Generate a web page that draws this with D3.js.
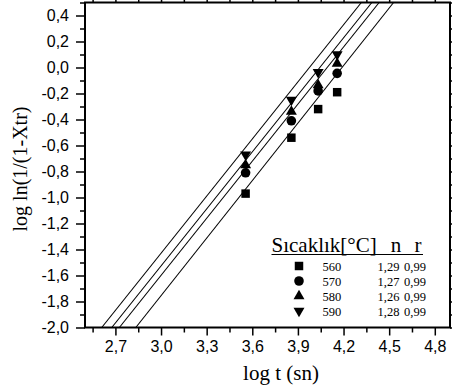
<!DOCTYPE html>
<html><head><meta charset="utf-8">
<script src="https://cdn.jsdelivr.net/npm/d3@7"></script>
<style>body{margin:0;background:#fff}svg{display:block}</style>
</head><body><svg id="c" width="452" height="392"></svg>
<script>
// ---- data ----
const logT = [3.556, 3.857, 4.033, 4.158];
const temps = ["560", "570", "580", "590"];
const y560 = [-0.97, -0.54, -0.32, -0.19];
const y570 = [-0.81, -0.41, -0.18, -0.045];
const y580 = [-0.75, -0.34, -0.135, 0.03];
const y590 = [-0.67, -0.25, -0.035, 0.10];
const nVals = ["1,29", "1,27", "1,26", "1,28"];
const rVals = ["0,99", "0,99", "0,99", "0,99"];
// fitted lines: x where the line meets y=-2.0 and y=0.5
const lineX0 = [2.834, 2.726, 2.676, 2.610];
const lineX1 = [4.529, 4.434, 4.386, 4.317];
const lineY0 = -2.0, lineY1 = 0.5;
const xMajor = [2.7, 3.0, 3.3, 3.6, 3.9, 4.2, 4.5, 4.8];
const xMinor = [2.55, 2.85, 3.15, 3.45, 3.75, 4.05, 4.35, 4.65];
const yMajor = [-2.0, -1.8, -1.6, -1.4, -1.2, -1.0, -0.8, -0.6, -0.4, -0.2, 0.0, 0.2, 0.4];
const yMinor = [-1.9, -1.7, -1.5, -1.3, -1.1, -0.9, -0.7, -0.5, -0.3, -0.1, 0.1, 0.3, 0.5];
const series = [y560, y570, y580, y590];

// ---- layout ----
const L = 85, R = 450, T = 2.5, B = 327.5;
const svg = d3.select("#c");
const x = d3.scaleLinear().domain([2.5, 4.9]).range([L, R]);
const y = d3.scaleLinear().domain([-2.0, 0.5]).range([B, T]);
const loc = d3.formatLocale({decimal: ",", thousands: ".", grouping: [3], currency: ["", ""], minus: "-"});
const fmt = loc.format(".1f");
const SANS = "'Liberation Sans', Arial, sans-serif";
const SERIF = "'Liberation Serif', 'Times New Roman', serif";

svg.append("defs").append("clipPath").attr("id", "clip")
  .append("rect").attr("x", L).attr("y", T).attr("width", R - L).attr("height", B - T);

// lines
svg.append("g").attr("clip-path", "url(#clip)").selectAll("line")
  .data(lineX0.map((v, i) => [v, lineX1[i]])).join("line")
  .attr("x1", d => x(d[0])).attr("y1", y(lineY0))
  .attr("x2", d => x(d[1])).attr("y2", y(lineY1))
  .attr("stroke", "#000").attr("stroke-width", 1.1);

// axes
function styleAxis(g) {
  g.select(".domain").remove();
  g.selectAll("line").attr("stroke", "#000").attr("stroke-width", 1.5);
  g.selectAll("text").attr("font-family", SANS).attr("font-size", 16).attr("fill", "#000");
}
svg.append("g").attr("transform", `translate(0,${B})`)
  .call(d3.axisBottom(x).tickValues(xMajor).tickSize(8).tickPadding(5).tickFormat(fmt)).call(styleAxis);
svg.append("g").attr("transform", `translate(0,${B})`)
  .call(d3.axisBottom(x).tickValues(xMinor).tickSize(5).tickFormat("")).call(styleAxis);
svg.append("g").attr("transform", `translate(0,${T})`)
  .call(d3.axisTop(x).tickValues(xMajor).tickSize(8).tickFormat("")).call(styleAxis);
svg.append("g").attr("transform", `translate(0,${T})`)
  .call(d3.axisTop(x).tickValues(xMinor).tickSize(5).tickFormat("")).call(styleAxis);
svg.append("g").attr("transform", `translate(${L},0)`)
  .call(d3.axisLeft(y).tickValues(yMajor).tickSize(9).tickPadding(7).tickFormat(fmt)).call(styleAxis);
svg.append("g").attr("transform", `translate(${L},0)`)
  .call(d3.axisLeft(y).tickValues(yMinor).tickSize(5).tickFormat("")).call(styleAxis);
svg.append("g").attr("transform", `translate(${R},0)`)
  .call(d3.axisRight(y).tickValues(yMajor).tickSize(8).tickFormat("")).call(styleAxis);
svg.append("g").attr("transform", `translate(${R},0)`)
  .call(d3.axisRight(y).tickValues(yMinor).tickSize(5).tickFormat("")).call(styleAxis);

// frame
svg.append("rect").attr("x", L).attr("y", T).attr("width", R - L).attr("height", B - T)
  .attr("fill", "none").attr("stroke", "#000").attr("stroke-width", 2);

// markers
const symDefs = [
  {type: d3.symbolSquare, size: 72, rot: 0},
  {type: d3.symbolCircle, size: 72, rot: 0},
  {type: d3.symbolTriangle, size: 52, rot: 0},
  {type: d3.symbolTriangle, size: 52, rot: 180}
];
series.forEach((vals, si) => {
  const s = symDefs[si];
  svg.append("g").selectAll("path").data(vals).join("path")
    .attr("d", d3.symbol().type(s.type).size(s.size))
    .attr("transform", (d, i) => `translate(${x(logT[i])},${y(d)}) rotate(${s.rot})`)
    .attr("fill", "#000");
});

// axis titles
svg.append("text").attr("x", 281).attr("y", 380).attr("text-anchor", "middle")
  .attr("font-family", SERIF).attr("font-size", 21).text("log t (sn)");
svg.append("text").attr("transform", "translate(27,169) rotate(-90)").attr("text-anchor", "middle")
  .attr("font-family", SERIF).attr("font-size", 20).text("log ln(1/(1-Xtr)");

// legend
const lg = svg.append("g").attr("font-family", SERIF).attr("fill", "#000");
lg.append("text").attr("x", 271.5).attr("y", 252).attr("font-size", 21).text("Sıcaklık[°C]");
lg.append("text").attr("x", 396).attr("y", 252).attr("text-anchor", "middle").attr("font-size", 21).text("n");
lg.append("text").attr("x", 418).attr("y", 252).attr("text-anchor", "middle").attr("font-size", 21).text("r");
lg.append("line").attr("x1", 271.5).attr("x2", 423).attr("y1", 254.5).attr("y2", 254.5)
  .attr("stroke", "#000").attr("stroke-width", 1);
temps.forEach((t, i) => {
  const cy = 266 + i * 15;
  const s = symDefs[i];
  lg.append("path").attr("d", d3.symbol().type(s.type).size(s.size))
    .attr("transform", `translate(299,${cy}) rotate(${s.rot})`).attr("fill", "#000");
  lg.append("text").attr("x", 322.5).attr("y", cy + 4.5).attr("font-size", 12.5).text(t);
  lg.append("text").attr("x", 377.5).attr("y", cy + 4.5).attr("font-size", 12.5).text(nVals[i]);
  lg.append("text").attr("x", 404).attr("y", cy + 4.5).attr("font-size", 12.5).text(rVals[i]);
});
</script></body></html>
